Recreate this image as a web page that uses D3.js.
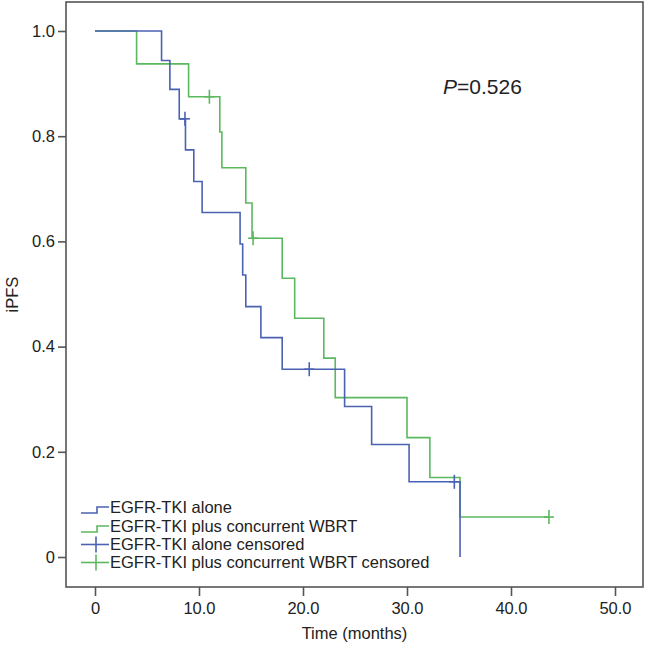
<!DOCTYPE html>
<html>
<head>
<meta charset="utf-8">
<script src="https://cdn.jsdelivr.net/npm/d3@7/dist/d3.min.js"></script>
<style>
  html, body { margin: 0; padding: 0; background: #fff; }
  svg text { font-family: "Liberation Sans", Arial, sans-serif; fill: #222; }
</style>
</head>
<body>
<svg id="chart" width="646" height="651"></svg>
<script>
// ---- data ----
const aloneTimes = [0, 6.4, 7.2, 8.1, 8.7, 9.5, 10.3, 13.95, 14.2, 14.5, 15.95, 18.0, 24.0, 26.6, 30.2, 35.1];
const aloneSurv  = [1.0, 0.944, 0.889, 0.833, 0.774, 0.714, 0.655, 0.595, 0.536, 0.476, 0.417, 0.357, 0.286, 0.214, 0.143, 0];
const aloneCensorTimes = [8.65, 20.6, 34.55];
const aloneCensorSurv  = [0.833, 0.357, 0.143];

const wbrtTimes = [0, 4.0, 9.0, 12.0, 12.2, 14.5, 15.1, 18.0, 19.2, 22.0, 23.1, 30.0, 32.2, 35.1, 43.65];
const wbrtSurv  = [1.0, 0.9375, 0.875, 0.808, 0.740, 0.673, 0.606, 0.530, 0.454, 0.378, 0.303, 0.227, 0.151, 0.076, 0.076];
const wbrtCensorTimes = [11.0, 15.2, 43.65];
const wbrtCensorSurv  = [0.875, 0.606, 0.076];

const xTicks = [0, 10, 20, 30, 40, 50];
const xTickLabels = ["0", "10.0", "20.0", "30.0", "40.0", "50.0"];
const yTicks = [0, 0.2, 0.4, 0.6, 0.8, 1.0];
const yTickLabels = ["0", "0.2", "0.4", "0.6", "0.8", "1.0"];

const legendLabels = [
  "EGFR-TKI alone",
  "EGFR-TKI plus concurrent WBRT",
  "EGFR-TKI alone censored",
  "EGFR-TKI plus concurrent WBRT censored"
];
const pText = "=0.526";

// ---- layout ----
const blue = "#4b62b3";
const green = "#5cb85e";
const frameColor = "#555";
const frame = {left: 66, right: 643, top: 2, bottom: 587};

const svg = d3.select("#chart");
const x = d3.scaleLinear().domain([0, 50]).range([95, 615]);
const y = d3.scaleLinear().domain([0, 1]).range([557, 31]);

// frame
svg.append("rect")
  .attr("x", frame.left).attr("y", frame.top)
  .attr("width", frame.right - frame.left).attr("height", frame.bottom - frame.top)
  .attr("fill", "none").attr("stroke", frameColor).attr("stroke-width", 1.6);

// axes
const xAxis = d3.axisBottom(x).tickValues(xTicks)
  .tickFormat((d, i) => xTickLabels[i]).tickSize(9).tickPadding(6);
const gx = svg.append("g").attr("transform", `translate(0,${frame.bottom})`).call(xAxis);
gx.select(".domain").remove();
gx.selectAll(".tick line").attr("stroke", frameColor).attr("stroke-width", 1.6);
gx.selectAll(".tick text").attr("font-size", 16.5).style("fill", "#222")
  .attr("font-family", "Liberation Sans, Arial, sans-serif");

const yAxis = d3.axisLeft(y).tickValues(yTicks)
  .tickFormat((d, i) => yTickLabels[i]).tickSize(8).tickPadding(3);
const gy = svg.append("g").attr("transform", `translate(${frame.left},0)`).call(yAxis);
gy.select(".domain").remove();
gy.selectAll(".tick line").attr("stroke", frameColor).attr("stroke-width", 1.6);
gy.selectAll(".tick text").attr("font-size", 16.5).style("fill", "#222")
  .attr("font-family", "Liberation Sans, Arial, sans-serif");

// axis titles
svg.append("text").attr("x", (frame.left + frame.right) / 2).attr("y", 639)
  .attr("text-anchor", "middle").attr("font-size", 16.5).text("Time (months)");
svg.append("text")
  .attr("transform", `translate(18,${(frame.top + frame.bottom) / 2}) rotate(-90)`)
  .attr("text-anchor", "middle").attr("font-size", 16.5).text("iPFS");

// curves
const line = d3.line().x(d => x(d[0])).y(d => y(d[1])).curve(d3.curveStepAfter);
const wbrtPts = wbrtTimes.map((t, i) => [t, wbrtSurv[i]]);
const alonePts = aloneTimes.map((t, i) => [t, aloneSurv[i]]);

svg.append("path").datum(wbrtPts).attr("d", line)
  .attr("fill", "none").attr("stroke", green).attr("stroke-width", 1.6);
svg.append("path").datum(alonePts).attr("d", line)
  .attr("fill", "none").attr("stroke", blue).attr("stroke-width", 1.6);

function censor(times, survs, color) {
  const g = svg.append("g").attr("stroke", color).attr("stroke-width", 1.6);
  times.forEach((t, i) => {
    const cx = x(t), cy = y(survs[i]);
    g.append("line").attr("x1", cx).attr("x2", cx).attr("y1", cy - 7).attr("y2", cy + 7);
    g.append("line").attr("x1", cx - 5).attr("x2", cx + 5).attr("y1", cy).attr("y2", cy);
  });
}
censor(wbrtCensorTimes, wbrtCensorSurv, green);
censor(aloneCensorTimes, aloneCensorSurv, blue);

// P value
const pt = svg.append("text").attr("x", 443).attr("y", 94).attr("font-size", 21);
pt.append("tspan").attr("font-style", "italic").text("P");
pt.append("tspan").text(pText);

// legend
const legX0 = 81, legX1 = 109, textX = 110;
const rowY = [507, 526, 544.5, 562.5];
const legColors = [blue, green, blue, green];
legendLabels.forEach((lab, i) => {
  const cy = rowY[i];
  const c = legColors[i];
  if (i < 2) {
    svg.append("path")
      .attr("d", `M${legX0},${cy + 6} H${legX0 + 16} V${cy} H${legX1}`)
      .attr("fill", "none").attr("stroke", c).attr("stroke-width", 1.6);
  } else {
    svg.append("line").attr("x1", legX0).attr("x2", legX1).attr("y1", cy).attr("y2", cy)
      .attr("stroke", c).attr("stroke-width", 1.6);
    svg.append("line").attr("x1", 96).attr("x2", 96).attr("y1", cy - 8).attr("y2", cy + 8)
      .attr("stroke", c).attr("stroke-width", 1.6);
  }
  svg.append("text").attr("x", textX).attr("y", cy).attr("dy", "0.36em")
    .attr("font-size", 16.5).text(lab);
});
</script>
</body>
</html>
